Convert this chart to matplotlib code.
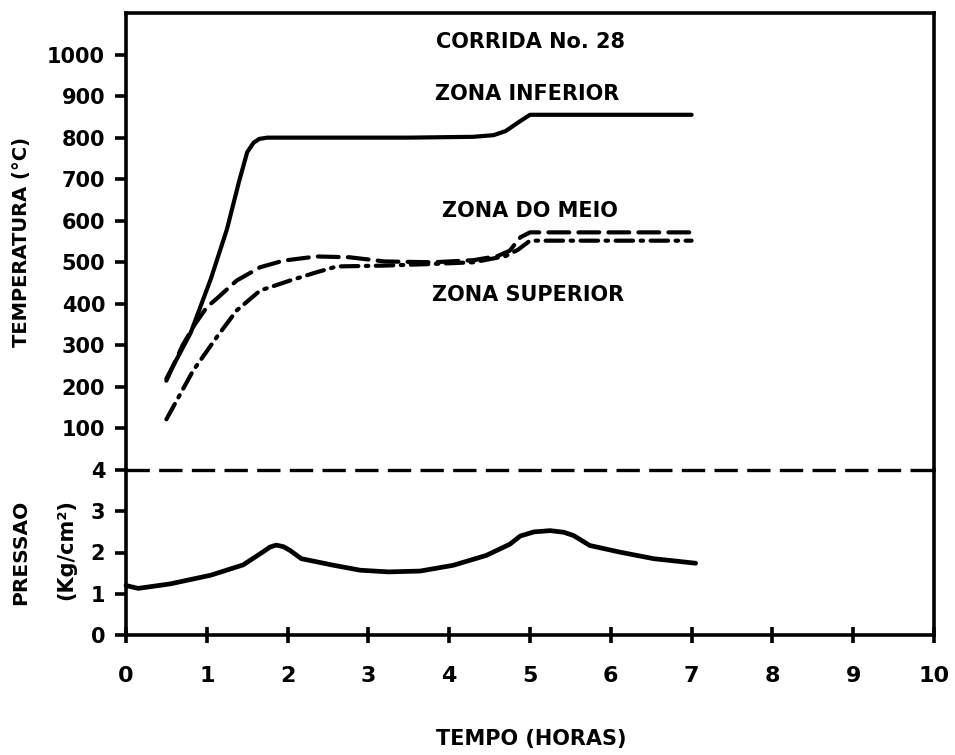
import matplotlib
matplotlib.use("Agg")
import matplotlib.pyplot as plt

# ---- data ----
hours_ticks = list(range(0, 11))
temp_ticks = [100, 200, 300, 400, 500, 600, 700, 800, 900, 1000]
pres_ticks = [0, 1, 2, 3, 4]

# ZONA INFERIOR (solid)
inf_x = [0.5, 0.8, 1.05, 1.25, 1.4, 1.5, 1.58, 1.65, 1.75, 2.5, 3.5, 4.3, 4.55, 4.7, 4.85, 5.0, 7.0]
inf_t = [220, 330, 460, 580, 695, 765, 788, 797, 800, 800, 800, 802, 806, 816, 836, 855, 855]

# ZONA DO MEIO (dashed)
mei_x = [0.5, 0.7, 0.85, 1.0, 1.12, 1.37, 1.66, 1.95, 2.36, 2.77, 3.2, 3.8, 4.3, 4.6, 4.75, 4.88, 5.0, 7.0]
mei_t = [215, 300, 350, 392, 412, 456, 488, 504, 514, 512, 502, 500, 505, 515, 528, 560, 572, 572]

# ZONA SUPERIOR (dash-dot)
sup_x = [0.5, 0.83, 1.12, 1.37, 1.66, 2.03, 2.36, 2.61, 3.2, 3.8, 4.3, 4.7, 4.85, 5.0, 7.0]
sup_t = [122, 239, 319, 384, 432, 456, 476, 490, 492, 496, 500, 515, 530, 552, 552]

# Pressure
pre_x = [0.0, 0.15, 0.55, 1.05, 1.45, 1.7, 1.78, 1.86, 1.95, 2.03, 2.17, 2.57, 2.9, 3.25, 3.64,
         4.05, 4.46, 4.75, 4.88, 5.05, 5.25, 5.42, 5.54, 5.74, 6.11, 6.53, 7.05]
pre_p = [1.2, 1.13, 1.24, 1.45, 1.7, 2.02, 2.13, 2.18, 2.14, 2.05, 1.85, 1.69, 1.57, 1.53, 1.55,
         1.69, 1.93, 2.2, 2.4, 2.5, 2.53, 2.49, 2.41, 2.17, 2.01, 1.85, 1.74]

# ---- figure ----
W, H = 955, 755
fig = plt.figure(figsize=(W / 100, H / 100), dpi=100)
plt.rcParams['font.family'] = ['DejaVu Sans']

left = 126 / W
width = (934 - 126) / W
ax_t = fig.add_axes([left, 1 - 470 / H, width, (470 - 13) / H])
ax_p = fig.add_axes([left, 1 - 635 / H, width, (635 - 470) / H])

lw_sp = 2.6
for ax in (ax_t, ax_p):
    for s in ax.spines.values():
        s.set_linewidth(lw_sp)
    ax.set_xlim(0, 10)

ax_t.spines['bottom'].set_visible(False)
ax_p.spines['top'].set_visible(False)
ax_p.axhline(4, color='black', lw=2.4, linestyle=(0, (7, 2.8)), clip_on=False)

ax_t.set_ylim(0, 1100)
ax_p.set_ylim(0, 4)

tfont = dict(fontsize=15, fontweight='bold')

ax_t.set_xticks([])
ax_t.set_yticks(temp_ticks)
ax_t.set_yticklabels([str(v) for v in temp_ticks], **tfont)
ax_t.tick_params(axis='y', direction='out', length=8, width=2.6, pad=7)

ax_p.set_yticks(pres_ticks)
ax_p.set_yticklabels([str(v) for v in pres_ticks], **tfont)
ax_p.set_xticks(hours_ticks)
ax_p.set_xticklabels([str(v) for v in hours_ticks], fontsize=16, fontweight='bold')
ax_p.tick_params(axis='y', direction='out', length=8, width=2.6, pad=7)
ax_p.tick_params(axis='x', direction='inout', length=12, width=2.6, pad=16)

# curves
ax_t.plot(inf_x, inf_t, color='black', lw=3, solid_capstyle='round', solid_joinstyle='round')
ax_t.plot(mei_x, mei_t, color='black', lw=3, linestyle=(0, (5, 2.2)), dash_capstyle='round')
ax_t.plot(sup_x, sup_t, color='black', lw=3, linestyle=(0, (4.2, 1.8, 0.6, 1.8)), dash_capstyle='round')
ax_p.plot(pre_x, pre_p, color='black', lw=3.4, solid_capstyle='round', solid_joinstyle='round', clip_on=False)

# annotations
afont = dict(fontsize=15, fontweight='bold', ha='center', va='center')
ax_t.text(5.0, 1029, 'CORRIDA No. 28', **afont)
ax_t.text(4.97, 906, 'ZONA INFERIOR', **afont)
ax_t.text(5.0, 623, 'ZONA DO MEIO', **afont)
ax_t.text(4.98, 421, 'ZONA SUPERIOR', **afont)

# axis labels
fig.text(22 / W, 1 - 242 / H, 'TEMPERATURA (°C)', rotation=90, ha='center', va='center',
         fontsize=14, fontweight='bold')
fig.text(21 / W, 1 - 552 / H, 'PRESSAO', rotation=90, ha='center', va='center',
         fontsize=14.5, fontweight='bold')
fig.text(66 / W, 1 - 550 / H, '(Kg/cm²)', rotation=90, ha='center', va='center',
         fontsize=15, fontweight='bold')
fig.text(531 / W, 1 - 739 / H, 'TEMPO (HORAS)', ha='center', va='center',
         fontsize=15, fontweight='bold')

fig.savefig('out.png', dpi=100)
